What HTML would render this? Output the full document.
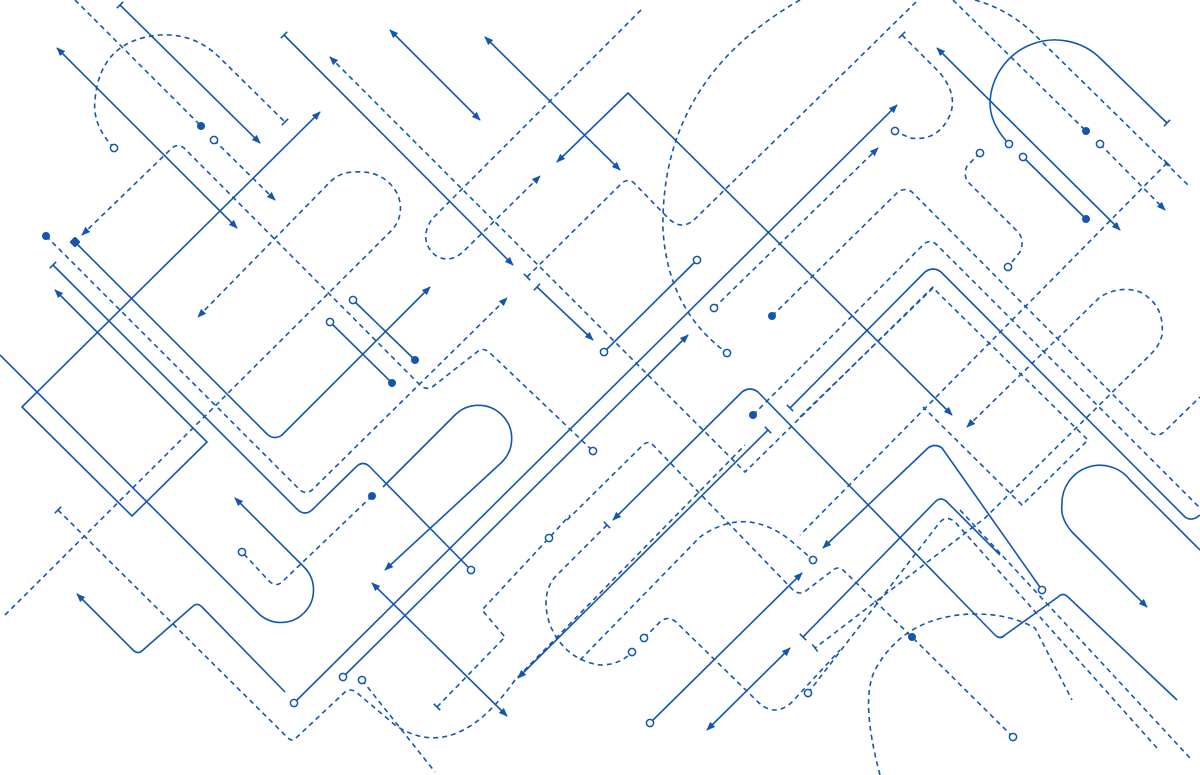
<!DOCTYPE html>
<html><head><meta charset="utf-8"><style>
html,body{margin:0;padding:0;background:#fff;width:1200px;height:775px;overflow:hidden}
svg{display:block}
.s,.d{fill:none;stroke:#1456ad;stroke-width:1.6;stroke-linejoin:round}
.d{stroke-dasharray:5 4}
</style></head><body>
<svg width="1200" height="775" viewBox="0 0 1200 775" xmlns="http://www.w3.org/2000/svg">
<defs>
<marker id="a" viewBox="0 0 10 10" refX="9" refY="5" markerWidth="9" markerHeight="9" markerUnits="userSpaceOnUse" orient="auto-start-reverse"><path d="M0,1 L10,5 L0,9 z" fill="#1456ad"/></marker>
<marker id="t" viewBox="-5 -5 10 10" refX="0" refY="0" markerWidth="10" markerHeight="10" markerUnits="userSpaceOnUse" orient="auto"><line x1="0" y1="-4.5" x2="0" y2="4.5" stroke="#1456ad" stroke-width="1.6"/></marker>
<marker id="f" viewBox="-5 -5 10 10" refX="0" refY="0" markerWidth="10" markerHeight="10" markerUnits="userSpaceOnUse"><circle r="4" fill="#1456ad"/></marker>
<marker id="o" viewBox="-5 -5 10 10" refX="0" refY="0" markerWidth="10" markerHeight="10" markerUnits="userSpaceOnUse"><circle r="3.6" fill="#fff" stroke="#1456ad" stroke-width="1.5"/></marker>
<marker id="q" viewBox="-5 -5 10 10" refX="0" refY="0" markerWidth="10" markerHeight="10" markerUnits="userSpaceOnUse"><rect x="-4" y="-4" width="8" height="8" fill="#1456ad" transform="rotate(45)"/></marker>
</defs>

<!-- top-left -->
<path class="s" d="M120,5 L260,143" marker-start="url(#t)" marker-end="url(#a)"/>
<path class="s" d="M57,48 L237,228" marker-start="url(#a)" marker-end="url(#a)"/>
<path class="d" d="M75,0 L201,126" marker-end="url(#f)"/>
<path class="d" d="M214,140 L275,200" marker-start="url(#o)" marker-end="url(#a)"/>
<path class="d" d="M114,148 Q92,125 95,100 Q100,40 160,35 Q195,33 220,58 L285,122" marker-start="url(#o)" marker-end="url(#t)"/>
<path class="s" d="M284,35 L513,265" marker-start="url(#t)" marker-end="url(#a)"/>
<path class="d" d="M330,57 L745,472 L935,285" marker-start="url(#a)"/>
<path class="s" d="M390,30 L480,120" marker-start="url(#a)" marker-end="url(#a)"/>
<path class="s" d="M485,37 L620,170" marker-start="url(#a)" marker-end="url(#a)"/>
<path class="s" d="M557,162 L628,93 L952,415" marker-start="url(#a)" marker-end="url(#a)"/>
<path class="d" d="M641,10 L432,219 Q418,240 435,255 Q450,265 465,250 L540,176" marker-end="url(#a)"/>
<path class="d" d="M527,277 L622,183 Q628,178 634,183 L668,218 Q682,232 696,218 L918,0" marker-start="url(#t)"/>
<path class="d" d="M800,0 Q660,80 663,230 Q668,310 727,353" marker-end="url(#o)"/>
<path class="s" d="M697,260 L604,352" marker-start="url(#o)" marker-end="url(#o)"/>
<path class="d" d="M714,308 L878,148" marker-start="url(#o)" marker-end="url(#a)"/>
<path class="s" d="M294,703 L897,105" marker-start="url(#o)" marker-end="url(#a)"/>
<path class="s" d="M343,677 L688,335" marker-start="url(#o)" marker-end="url(#a)"/>
<path class="d" d="M362,680 L435,772" marker-start="url(#o)"/>

<!-- left -->
<path class="s" d="M55,290 L207,442 L132,516 L22,407 L320,112" marker-start="url(#a)" marker-end="url(#a)"/>
<path class="s" d="M0,355 L258,613 A32.5,32.5 0 0 0 304,567 L235,498" marker-end="url(#a)"/>
<path class="s" d="M53,265 L298,510 Q305,516 312,510 L357,466 Q363,461 369,466 L471,570" marker-start="url(#t)" marker-end="url(#o)"/>
<path class="d" d="M82,235 L172,148 Q178,143 184,148 L420,385 Q428,392 436,384 L477,352 Q483,347 489,352 L593,451" marker-start="url(#a)" marker-end="url(#o)"/>
<path class="d" d="M46,236 L300,490 Q306,495 312,490 L507,298" marker-start="url(#f)" marker-end="url(#a)"/>
<path class="d" d="M5,615 L392,230 Q405,215 398,195 Q385,170 355,172 Q340,172 330,182 L198,317" marker-end="url(#a)"/>
<path class="s" d="M75,242 L268,435 Q275,440 282,435 L430,287" marker-start="url(#q)" marker-end="url(#a)"/>
<path class="s" d="M330,322 L392,383" marker-start="url(#o)" marker-end="url(#f)"/>
<path class="s" d="M353,300 L415,360" marker-start="url(#o)" marker-end="url(#f)"/>

<!-- bottom-left -->
<path class="d" d="M58,510 L288,738 Q292,742 296,738 L345,692 Q350,688 356,692 L395,725 Q455,765 515,680 L745,445" marker-start="url(#t)"/>
<path class="s" d="M77,594 L133,650 Q138,655 143,650 L192,607 Q197,602 202,607 L285,692" marker-start="url(#a)"/>
<path class="s" d="M383,487 L455,415 A33,33 0 0 1 502,462 L385,570" marker-end="url(#a)"/>
<path class="d" d="M372,496 L282,582 Q277,587 270,582 L242,552" marker-start="url(#f)" marker-end="url(#o)"/>

<!-- middle -->
<path class="s" d="M372,583 L507,716" marker-start="url(#a)" marker-end="url(#a)"/>
<path class="d" d="M437,707 L505,637 L482,610 L549,538 L570,515" marker-start="url(#t)"/>
<circle cx="549" cy="538" r="3.6" fill="#fff" stroke="#1456ad" stroke-width="1.5"/>
<path class="s" d="M768,430 L518,678" marker-start="url(#t)" marker-end="url(#a)"/>
<path class="d" d="M607,525 L555,577 Q540,595 550,625 Q565,660 600,665 Q620,665 632,652" marker-start="url(#t)" marker-end="url(#o)"/>
<path class="d" d="M567,520 L643,445 Q648,440 653,445 L793,590 Q800,596 807,590 L833,570 Q838,566 843,570 L912,637 L1013,737" marker-end="url(#o)"/>
<circle cx="912" cy="637" r="4" fill="#1456ad"/>
<path class="d" d="M580,660 L700,537 Q745,505 790,540 L813,560" marker-end="url(#o)"/>
<path class="d" d="M644,638 L660,622 Q668,615 676,622 L758,702 Q775,718 792,702 L840,650"/>
<circle cx="644" cy="638" r="3.6" fill="#fff" stroke="#1456ad" stroke-width="1.5"/>
<path class="d" d="M808,693 L940,522 Q947,515 955,522 L1157,748" marker-start="url(#o)"/>
<path class="d" d="M880,775 Q860,700 875,670 Q905,615 975,614 Q1010,614 1035,628 L1072,700"/>
<path class="s" d="M537,287 L593,340" marker-start="url(#t)" marker-end="url(#a)"/>
<path class="s" d="M650,723 L802,573" marker-start="url(#o)" marker-end="url(#a)"/>
<path class="s" d="M707,730 L790,648" marker-start="url(#a)" marker-end="url(#a)"/>
<path class="s" d="M613,520 L742,392 Q750,386 758,392 L995,635 Q1000,640 1005,635 L1058,597 Q1063,592 1068,597 L1177,700" marker-start="url(#a)"/>
<path class="s" d="M823,548 L928,448 Q935,443 942,448 L1042,590" marker-start="url(#a)" marker-end="url(#o)"/>
<path class="s" d="M803,637 L935,502 Q941,496 947,502 L1000,555"  marker-start="url(#t)"/>
<path class="d" d="M1167,163 L800,535" marker-start="url(#t)"/>

<!-- top-right -->
<path class="d" d="M953,0 L1086,131" marker-end="url(#f)"/>
<path class="d" d="M975,0 Q1010,10 1035,35 L1188,185"/>
<path class="s" d="M1009,144 Q991,125 990,105 A65,65 0 0 1 1101,59 L1167,123" marker-start="url(#o)" marker-end="url(#t)"/>
<path class="s" d="M937,48 L1120,230" marker-start="url(#a)" marker-end="url(#a)"/>
<path class="s" d="M1023,157 L1086,219" marker-start="url(#o)" marker-end="url(#f)"/>
<path class="d" d="M1100,144 L1165,210" marker-start="url(#o)" marker-end="url(#a)"/>
<path class="d" d="M902,35 L940,73 Q958,95 950,115 Q938,142 910,138 L895,131" marker-start="url(#t)" marker-end="url(#o)"/>
<path class="d" d="M980,153 L967,166 Q963,175 968,182 L1018,232 Q1025,240 1020,252 L1008,267" marker-start="url(#o)" marker-end="url(#o)"/>
<path class="d" d="M772,316 L898,192 Q905,187 912,192 L1150,432 Q1157,438 1164,432 L1200,397" marker-start="url(#f)"/>
<path class="d" d="M753,415 L923,245 Q930,238 937,245 L1200,508" marker-start="url(#f)"/>
<path class="d" d="M967,427 L1100,297 Q1120,285 1140,292 Q1165,305 1162,335 Q1160,345 1150,355 L985,518 L815,648" marker-start="url(#a)" marker-end="url(#t)"/>
<path class="d" d="M800,417 L933,288 L1088,440 L1022,505 L923,407"/>
<path class="s" d="M790,408 L925,272 Q933,266 941,272 L1185,517 Q1192,522 1200,515" marker-start="url(#t)"/>
<path class="s" d="M1147,607 L1072,532 Q1060,518 1062,505 A38,38 0 0 1 1130,480 L1200,550" marker-start="url(#a)"/>
<path class="d" d="M960,510 L1190,758"/>
</svg>
</body></html>
